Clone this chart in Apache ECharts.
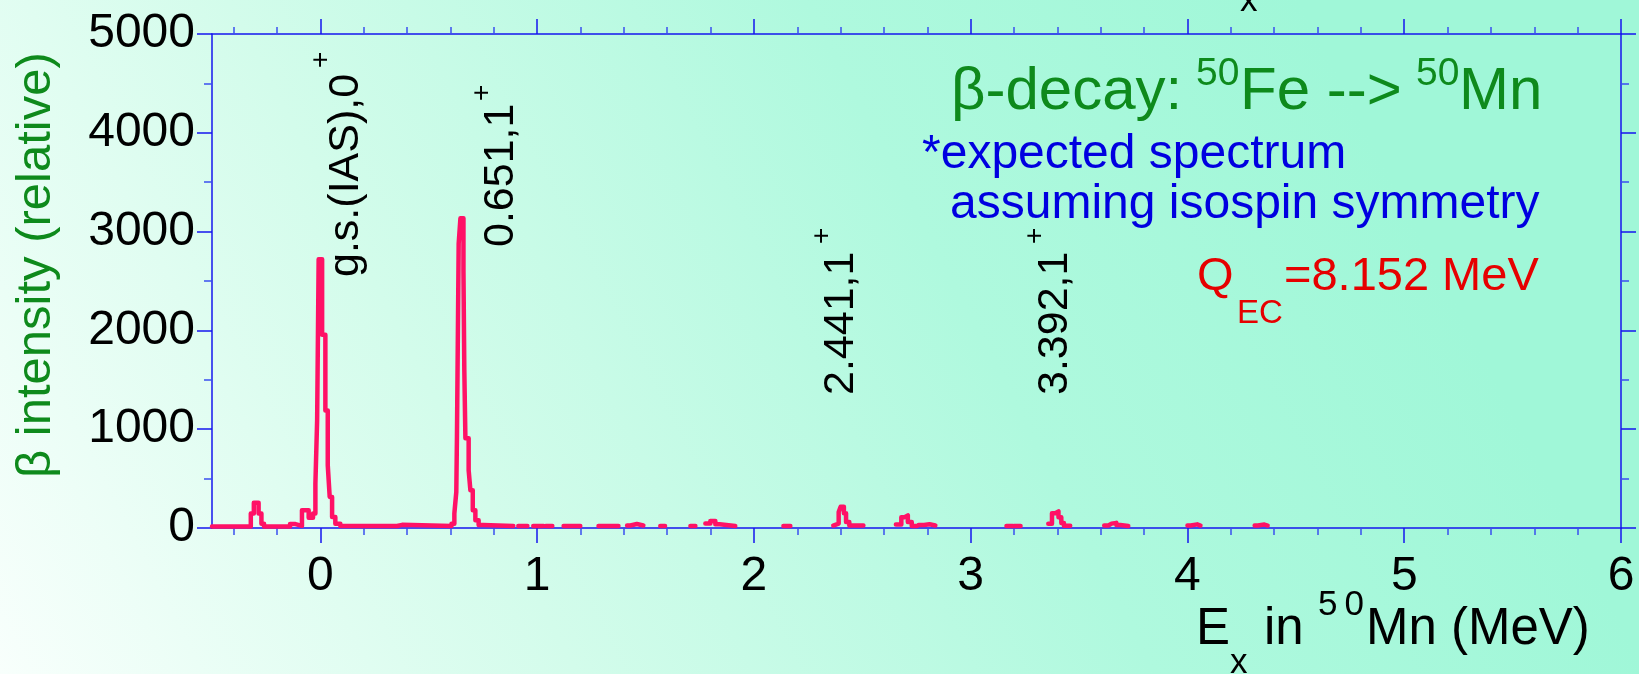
<!DOCTYPE html>
<html>
<head>
<meta charset="utf-8">
<title>beta-decay 50Fe --> 50Mn</title>
<script src="https://cdn.jsdelivr.net/npm/echarts@6/dist/echarts.min.js"></script>
<style>
html, body { margin: 0; padding: 0; }
#chart { width: 1639px; height: 674px; }
</style>
</head>
<body>
<div id="chart"></div>
<script>
// spectrum, step histogram: left edge of each flat piece (MeV) and its intensity
// null = nothing drawn until the next edge
var specE = [
    -0.5, -0.321, -0.307, -0.285, -0.272, -0.26, -0.14, -0.115, -0.085, -0.054, -0.034, -0.023,
    -0.015, -0.008, 0.008, 0.023, 0.034, 0.043, 0.054, 0.069, 0.092, 0.354, 0.377, 0.605,
    0.618, 0.627, 0.630, 0.638, 0.646, 0.660, 0.664, 0.669, 0.684, 0.692, 0.703, 0.715, 0.730, 0.75, 0.89,
    0.913, 0.955,
    0.982, 1.03,
    1.04, 1.07,
    1.122, 1.199,
    1.283, 1.375,
    1.415, 1.43, 1.46, 1.49,
    1.568, 1.59,
    1.707, 1.73,
    1.776, 1.799, 1.822, 1.842, 1.914,
    2.136, 2.168,
    2.366, 2.375, 2.391, 2.40, 2.415, 2.425, 2.44, 2.505,
    2.655, 2.68, 2.695, 2.71, 2.728, 2.752,
    2.76, 2.785, 2.81, 2.837,
    3.165, 3.195,
    3.2, 3.23,
    3.358, 3.375, 3.39, 3.405, 3.418, 3.43, 3.459,
    3.616, 3.635, 3.65, 3.672, 3.69, 3.727,
    4.0, 4.015, 4.045, 4.06,
    4.31, 4.325, 4.355, 4.37
];
var specI = [
    15, 146, 255, 146, 44, 15, 40, 22, 180, 105, 146, 450,
    1090, 2720, 1955, 1190, 635, 314, 111, 44, 20, 32, 20, 44,
    146, 365, 922, 2880, 3134, 2610, 1600, 908, 584, 382, 180, 78, 30, 20, null,
    20, null,
    20, null,
    20, null,
    20, null,
    20, null,
    25, 40, 25, null,
    20, null,
    20, null,
    45, 70, 37, 20, null,
    20, null,
    25, 45, 162, 215, 150, 60, 25, null,
    35, 110, 128, 60, 20, null,
    30, 38, 25, null,
    20, null,
    20, null,
    44, 150, 168, 110, 50, 22, null,
    25, 44, 52, 30, 20, null,
    25, 37, 25, null,
    25, 35, 25, null
];

var xMajor = [0, 1, 2, 3, 4, 5, 6];
var levelText = ['g.s.(IAS),0', '0.651,1', '2.441,1', '3.392,1'];

var xMinor = [];
for (var i = -2; i <= 29; i++) {
    if (i % 5 !== 0) xMinor.push(Math.round(i * 2) / 10);
}

var blue = '#1616ee';
var blueMinor = '#3a4ff0';
var green = '#0e8a1c';
var FONT = '"Liberation Sans", Arial, Helvetica, sans-serif';
var plain = function (v) { return String(v); };

function xAx(pos, ticks, len, line) {
    return {
        type: 'value', position: pos, min: -0.5, max: 6,
        axisLine: { show: line, onZero: false, lineStyle: { color: blue, width: 1.5 } },
        axisTick: { show: true, length: len, customValues: ticks, lineStyle: { color: len > 10 ? blue : blueMinor, width: 1.5 } },
        axisLabel: { show: false },
        splitLine: { show: false }
    };
}
function yAx(pos) {
    return {
        type: 'value', position: pos, min: 0, max: 5000, interval: 1000,
        axisLine: { show: true, onZero: false, lineStyle: { color: blue, width: 1.5 } },
        axisTick: { show: true, length: 15, lineStyle: { color: blue, width: 1.5 } },
        minorTick: { show: true, splitNumber: 2, length: 8, lineStyle: { color: blueMinor, width: 1.5 } },
        axisLabel: { show: pos === 'left', margin: 17, fontSize: 48, color: '#000', fontFamily: FONT, formatter: plain },
        splitLine: { show: false },
        minorSplitLine: { show: false }
    };
}

var xBottom = xAx('bottom', xMajor, 15, true);
xBottom.axisLabel = { show: true, customValues: xMajor, margin: 25, fontSize: 48, color: '#000', fontFamily: FONT, formatter: plain };

function txt(x, y, s, size, color, rot) {
    return {
        type: 'text', x: x, y: y, rotation: rot || 0, silent: true, z: 100,
        style: {
            text: s, font: size + 'px ' + FONT, fill: color,
            align: 'left', verticalAlign: 'middle',
            textAlign: 'left', textVerticalAlign: 'middle'
        }
    };
}
var R = Math.PI / 2;

var graphics = [
    // y axis title
    txt(36, 478, '\u03b2 intensity (relative)', 49, green, R),
    // level labels
    txt(346, 277, levelText[0], 43, '#000', R),
    txt(321.5, 68, '+', 28, '#000', R),
    txt(501.5, 247, levelText[1], 43, '#000', R),
    txt(482.5, 101, '+', 28, '#000', R),
    txt(841.5, 395, levelText[2], 43, '#000', R),
    txt(822.5, 244, '+', 28, '#000', R),
    txt(1055, 395, levelText[3], 43, '#000', R),
    txt(1035.5, 244, '+', 28, '#000', R),
    // title
    txt(951, 92, '\u03b2-decay:', 60, green),
    txt(1196, 74, '50', 39, green),
    txt(1240, 92, 'Fe -->', 60, green),
    txt(1416, 74, '50', 39, green),
    txt(1459, 92, 'Mn', 60, green),
    // notes
    txt(922, 155, '*expected spectrum', 48, '#0000e0'),
    txt(950, 205, 'assuming isospin symmetry', 48, '#0000e0'),
    txt(1197, 277, 'Q', 47, '#e60000'),
    txt(1237, 314, 'EC', 33, '#e60000'),
    txt(1284, 277, '=8.152 MeV', 47, '#e60000'),
    // x axis title
    txt(1196, 630, 'E', 51, '#000'),
    txt(1230, 663, 'x', 35, '#000'),
    txt(1264, 630, 'in', 51, '#000'),
    txt(1318, 605, '5\u20090', 35, '#000'),
    txt(1366, 630, 'Mn (MeV)', 51, '#000'),
    // cut-off subscript at the very top
    txt(1240, 1, 'x', 35, '#000')
];

var chart = echarts.init(document.getElementById('chart'));
var option = {
    animation: false,
    backgroundColor: {
        type: 'linear', global: true, x: 0, y: 674, x2: 1300, y2: 0,
        colorStops: [
            { offset: 0, color: '#f8fffc' },
            { offset: 0.35, color: '#d3fceb' },
            { offset: 0.7, color: '#aff9de' },
            { offset: 1, color: '#a0f7d8' }
        ]
    },
    textStyle: { fontFamily: FONT },
    grid: { left: 212, top: 34, right: 18, bottom: 146, containLabel: false },
    xAxis: [
        xBottom,
        xAx('bottom', xMinor, 7, false),
        xAx('top', xMajor, 15, true),
        xAx('top', xMinor, 7, false)
    ],
    yAxis: [yAx('left'), yAx('right')],
    series: [{
        type: 'line',
        step: 'end',
        xAxisIndex: 0,
        yAxisIndex: 0,
        showSymbol: false,
        symbol: 'none',
        connectNulls: false,
        lineStyle: { color: '#ff1166', width: 4.5, cap: 'round', join: 'round' },
        data: specE.map(function (e, k) { return [e, specI[k]]; })
    }],
    graphic: graphics
};
chart.setOption(option);
</script>
</body>
</html>
